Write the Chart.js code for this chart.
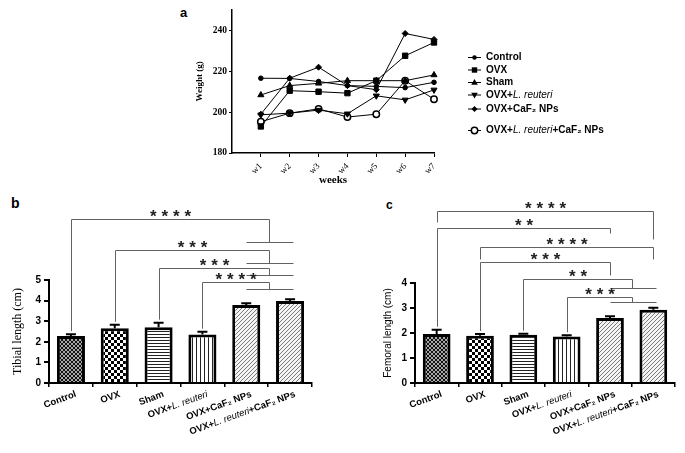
<!DOCTYPE html>
<html>
<head>
<meta charset="utf-8">
<script src="https://cdn.jsdelivr.net/npm/chart.js@4.4.1/dist/chart.umd.min.js"></script>
<style>
  body { margin: 0; background: #fff; width: 685px; height: 453px; position: relative; overflow: hidden; font-family: 'Liberation Sans', Arial, sans-serif; }
  canvas { position: absolute; }
  .tag { position: absolute; font-weight: bold; color: #000; line-height: 1; }
</style>
</head>
<body>
<div class="tag" style="left:180px;top:6px;font-size:13px">a</div>
<div class="tag" style="left:11px;top:196px;font-size:14px">b</div>
<div class="tag" style="left:386px;top:199px;font-size:12px">c</div>
<canvas id="weight" width="685" height="200" style="left:0;top:0"></canvas>
<canvas id="tibia" width="345" height="263" style="left:0;top:190px"></canvas>
<canvas id="femur" width="315" height="263" style="left:370px;top:190px"></canvas>
<script>
//****DATA****//

var weeks = ['w1', 'w2', 'w3', 'w4', 'w5', 'w6', 'w7'];
var weightTicks = [180, 200, 220, 240];
var groups = ['Control', 'OVX', 'Sham', 'OVX+L. reuteri', 'OVX+CaF₂ NPs', 'OVX+L. reuteri+CaF₂ NPs'];

// body weight (g) per week
var weightControl = [216.6, 216.5, 215.0, 213.0, 212.6, 212.0, 214.6];
var weightOvx = [193.0, 210.5, 210.0, 209.3, 215.4, 227.6, 234.1];
var weightSham = [208.4, 213.0, 214.1, 215.4, 215.4, 215.4, 218.2];
var weightReuteri = [198.7, 199.5, 201.0, 199.2, 208.0, 206.0, 210.9];
var weightCaf2 = [199.0, 216.6, 222.0, 213.0, 211.0, 238.5, 235.6];
var weightBoth = [195.3, 199.5, 201.6, 197.6, 199.0, 215.4, 206.3];

// bone lengths (cm), mean and error
var tibiaMean = [2.28, 2.66, 2.71, 2.36, 3.79, 3.98];
var tibiaErr = [0.09, 0.17, 0.22, 0.13, 0.08, 0.08];
var tibiaTicks = [0, 1, 2, 3, 4, 5];
var femurMean = [1.96, 1.89, 1.93, 1.86, 2.60, 2.93];
var femurErr = [0.17, 0.07, 0.04, 0.05, 0.07, 0.08];
var femurTicks = [0, 1, 2, 3, 4];

// significance brackets: [from group, to group or 'pair' (the two CaF2 groups), level, left end, right end, stars]
// a null left end runs the line down to the error bar
var pairGroups = [4, 5];
var tibiaBrackets = [
  [0, 'pair', 7.95, null, 6.84, '****'],
  [1, 'pair', 6.47, null, 5.82, '***'],
  [2, 'pair', 5.56, null, 5.25, '***'],
  [3, 'pair', 4.90, null, 4.58, '****']
];
var femurBrackets = [
  [0, 5, 6.89, 6.46, 5.76, '****'],
  [0, 4, 6.22, null, 6.02, '**'],
  [1, 5, 5.46, 4.96, 4.96, '****'],
  [1, 4, 4.84, null, 4.33, '***'],
  [2, 'pair', 4.16, null, 3.82, '**'],
  [3, 'pair', 3.46, null, 3.24, '***']
];

//****HELPERS****//

var SANS = "'Liberation Sans', Arial, sans-serif";
var SERIF = "'Liberation Serif', 'Times New Roman', serif";

function richParts(text) {
  return text.split(/(L\. reuteri)/).filter(Boolean).map(function (p) {
    return { text: p, style: p === 'L. reuteri' ? 'italic ' : 'bold ' };
  });
}

function drawRich(ctx, text, x, y, size, alignRight) {
  var parts = richParts(text);
  var widths = parts.map(function (p) {
    ctx.font = p.style + size + 'px ' + SANS;
    return ctx.measureText(p.text).width;
  });
  var total = widths.reduce(function (a, b) { return a + b; }, 0);
  var cx = alignRight ? x - total : x;
  ctx.textAlign = 'left';
  parts.forEach(function (p, i) {
    ctx.font = p.style + size + 'px ' + SANS;
    ctx.fillText(p.text, cx, y);
    cx += widths[i];
  });
}

function marker(ctx, style, x, y) {
  ctx.beginPath();
  if (style === 'circle') {
    ctx.arc(x, y, 2.3, 0, Math.PI * 2);
    ctx.fill();
  } else if (style === 'rect') {
    ctx.fillRect(x - 2.7, y - 2.7, 5.4, 5.4);
  } else if (style === 'up') {
    ctx.moveTo(x, y - 3.5); ctx.lineTo(x + 3.3, y + 2.3); ctx.lineTo(x - 3.3, y + 2.3);
    ctx.fill();
  } else if (style === 'down') {
    ctx.moveTo(x, y + 3.5); ctx.lineTo(x + 3.3, y - 2.3); ctx.lineTo(x - 3.3, y - 2.3);
    ctx.fill();
  } else if (style === 'diamond') {
    ctx.moveTo(x, y - 3); ctx.lineTo(x + 3, y); ctx.lineTo(x, y + 3); ctx.lineTo(x - 3, y);
    ctx.fill();
  } else {
    ctx.fillStyle = '#fff';
    ctx.arc(x, y, 3.2, 0, Math.PI * 2);
    ctx.fill();
    ctx.lineWidth = 1.5;
    ctx.stroke();
    ctx.fillStyle = '#000';
  }
}

function makePattern(size, bg, fg, cells) {
  var c = document.createElement('canvas');
  c.width = size; c.height = size;
  var g = c.getContext('2d');
  g.fillStyle = bg; g.fillRect(0, 0, size, size);
  g.fillStyle = fg;
  cells.forEach(function (r) { g.fillRect(r[0], r[1], r[2], r[3]); });
  return g.createPattern(c, 'repeat');
}

var diagonal = [[3, 0, 1, 1], [2, 1, 1, 1], [1, 2, 1, 1], [0, 3, 1, 1]];
var fills = [
  makePattern(4, '#a8a8a8', '#111', [[0, 0, 1, 1], [1, 1, 1, 1], [2, 2, 1, 1], [3, 3, 1, 1], [3, 0, 1, 1], [2, 1, 1, 1], [1, 2, 1, 1], [0, 3, 1, 1]]),
  makePattern(6, '#fff', '#000', [[0, 0, 3, 3], [3, 3, 3, 3]]),
  makePattern(3, '#fff', '#222', [[0, 0, 3, 1]]),
  makePattern(4, '#fff', '#222', [[0, 0, 1, 4]]),
  makePattern(4, '#f4f4f4', '#7a7a7a', diagonal),
  makePattern(4, '#f4f4f4', '#7a7a7a', diagonal)
];

function points(values) {
  return weeks.map(function (w, i) { return { x: i + 1, y: values[i] }; });
}

//****PLUGINS****//

var weightLegend = {
  id: 'weightLegend',
  afterDraw: function (chart) {
    var ctx = chart.ctx;
    var rows = [57.5, 70, 82.5, 95, 109, 130.5];
    ctx.save();
    ctx.fillStyle = '#000';
    ctx.strokeStyle = '#000';
    ctx.textBaseline = 'middle';
    chart.data.datasets.forEach(function (ds, i) {
      var y = rows[i];
      ctx.lineWidth = 1;
      ctx.beginPath();
      ctx.moveTo(468, y); ctx.lineTo(481, y);
      ctx.stroke();
      marker(ctx, ds.legendMark, 474.5, y);
      drawRich(ctx, ds.label, 486, y, 10, false);
    });
    ctx.restore();
  }
};

function errorBars(errs) {
  return {
    id: 'errorBars',
    afterDatasetsDraw: function (chart) {
      var ctx = chart.ctx;
      var ys = chart.scales.y;
      var vals = chart.data.datasets[0].data;
      ctx.save();
      ctx.strokeStyle = '#000';
      ctx.lineWidth = 2;
      chart.getDatasetMeta(0).data.forEach(function (bar, i) {
        var top = ys.getPixelForValue(vals[i] + errs[i]);
        ctx.beginPath();
        ctx.moveTo(bar.x, bar.y);
        ctx.lineTo(bar.x, top);
        ctx.moveTo(bar.x - 5, top);
        ctx.lineTo(bar.x + 5, top);
        ctx.stroke();
      });
      ctx.restore();
    }
  };
}

function brackets(list, errs) {
  return {
    id: 'brackets',
    afterDraw: function (chart) {
      var ctx = chart.ctx;
      var xs = chart.scales.x;
      var ys = chart.scales.y;
      var vals = chart.data.datasets[0].data;
      function px(i) { return Math.round(xs.getPixelForValue(i)) + 0.5; }
      function py(v) { return Math.round(ys.getPixelForValue(v)) + 0.5; }
      ctx.save();
      ctx.strokeStyle = '#626262';
      ctx.lineWidth = 1;
      list.forEach(function (b) {
        var pair = b[1] === 'pair';
        var x1 = px(b[0]);
        var x2 = pair ? Math.round((px(pairGroups[0]) + px(pairGroups[1])) / 2) + 0.5 : px(b[1]);
        var level = py(b[2]);
        var y1 = b[3] === null ? ys.getPixelForValue(vals[b[0]] + errs[b[0]]) - 3 : py(b[3]);
        var y2 = py(b[4]);
        ctx.beginPath();
        ctx.moveTo(x1, y1);
        ctx.lineTo(x1, level);
        ctx.lineTo(x2, level);
        ctx.lineTo(x2, y2);
        if (pair) {
          ctx.moveTo(px(pairGroups[0]), y2);
          ctx.lineTo(px(pairGroups[1]) + 3, y2);
        }
        ctx.stroke();

        // stars
        ctx.fillStyle = '#222';
        ctx.font = 'bold 17px ' + SANS;
        ctx.textAlign = 'center';
        ctx.textBaseline = 'alphabetic';
        var n = b[5].length;
        var mid = (x1 + x2) / 2;
        for (var k = 0; k < n; k++) {
          ctx.fillText('*', mid + (k - (n - 1) / 2) * 11.5, level - 7.5 + 9.6);
        }
      });
      ctx.restore();
    }
  };
}

var groupLabels = {
  id: 'groupLabels',
  afterDraw: function (chart) {
    var ctx = chart.ctx;
    var xs = chart.scales.x;
    var base = chart.chartArea.bottom;
    ctx.save();
    ctx.fillStyle = '#000';
    ctx.textBaseline = 'middle';
    chart.data.labels.forEach(function (label, i) {
      ctx.save();
      ctx.translate(xs.getPixelForValue(i) + 5, base + 11);
      ctx.rotate(-20 * Math.PI / 180);
      drawRich(ctx, label, 0, 0, 9.5, true);
      ctx.restore();
    });
    ctx.restore();
  }
};

//****CHART A: BODY WEIGHT****//

function lineSet(label, values, style, mark) {
  return {
    label: label,
    data: points(values),
    borderColor: '#000',
    borderWidth: 1,
    backgroundColor: '#000',
    pointBorderColor: '#000',
    pointBackgroundColor: '#000',
    pointBorderWidth: 1,
    pointRadius: 3.5,
    pointStyle: style,
    legendMark: mark,
    tension: 0,
    clip: false
  };
}

var weightSets = [
  lineSet('Control', weightControl, 'circle', 'circle'),
  lineSet('OVX', weightOvx, 'rect', 'rect'),
  lineSet('Sham', weightSham, 'triangle', 'up'),
  lineSet('OVX+L. reuteri', weightReuteri, 'triangle', 'down'),
  lineSet('OVX+CaF₂ NPs', weightCaf2, 'rectRot', 'diamond'),
  lineSet('OVX+L. reuteri+CaF₂ NPs', weightBoth, 'circle', 'open')
];
weightSets[0].pointRadius = 2.3;
weightSets[1].pointRadius = 3.8;
weightSets[3].pointRotation = 180;
weightSets[4].pointRadius = 3;
weightSets[5].pointBackgroundColor = '#fff';
weightSets[5].pointBorderWidth = 1.5;
weightSets[5].pointRadius = 3.2;

new Chart(document.getElementById('weight'), {
  type: 'line',
  data: { datasets: weightSets },
  options: {
    responsive: false,
    animation: false,
    layout: { padding: { left: 190, right: 251, top: 10, bottom: 9 } },
    plugins: { legend: { display: false }, tooltip: { enabled: false } },
    scales: {
      x: {
        type: 'linear',
        min: 0,
        max: 7,
        afterBuildTicks: function (s) { s.ticks = weeks.map(function (w, i) { return { value: i + 1 }; }); },
        afterFit: function (s) { s.height = 38; },
        ticks: {
          callback: function (v) { return weeks[v - 1]; },
          minRotation: 45,
          maxRotation: 45,
          padding: 4,
          color: '#000',
          font: { family: SERIF, size: 9 }
        },
        grid: { drawOnChartArea: false, tickLength: 4, color: '#000' },
        border: { color: '#000', width: 1.5 },
        title: { display: true, text: 'weeks', color: '#000', font: { family: SERIF, size: 11, weight: 'bold' } }
      },
      y: {
        min: 180,
        max: 250,
        afterBuildTicks: function (s) { s.ticks = weightTicks.map(function (v) { return { value: v }; }); },
        afterFit: function (s) { s.width = 42; },
        ticks: { padding: 2, color: '#000', font: { family: SERIF, size: 9.5, weight: 'bold' } },
        grid: { drawOnChartArea: false, tickLength: 3, color: '#000' },
        border: { color: '#000', width: 1.5 },
        title: { display: true, text: 'Weight (g)', color: '#000', font: { family: SERIF, size: 9, weight: 'bold' } }
      }
    }
  },
  plugins: [weightLegend]
});

//****CHARTS B & C: BONE LENGTHS****//

function boneChart(id, means, errs, ticks, list, title, titleFont, pad, yWidth) {
  return new Chart(document.getElementById(id), {
    type: 'bar',
    data: {
      labels: groups,
      datasets: [{
        data: means,
        backgroundColor: fills,
        borderColor: '#000',
        borderWidth: 3,
        borderSkipped: 'bottom',
        barPercentage: 0.64,
        categoryPercentage: 1
      }]
    },
    options: {
      responsive: false,
      animation: false,
      layout: { padding: pad },
      plugins: { legend: { display: false }, tooltip: { enabled: false } },
      scales: {
        x: {
          afterFit: function (s) { s.height = 70; },
          ticks: { display: false },
          grid: { drawOnChartArea: false, tickLength: 4, color: '#000', lineWidth: 1.5 },
          border: { color: '#000', width: 2 }
        },
        y: {
          min: ticks[0],
          max: ticks[ticks.length - 1],
          afterBuildTicks: function (s) { s.ticks = ticks.map(function (v) { return { value: v }; }); },
          afterFit: function (s) { s.width = yWidth; },
          ticks: { padding: 3, color: '#000', font: { family: SANS, size: 10, weight: 'bold' } },
          grid: { drawOnChartArea: false, tickLength: 5, color: '#000', lineWidth: 2 },
          border: { color: '#000', width: 2 },
          title: { display: true, text: title, color: '#000', font: titleFont }
        }
      }
    },
    plugins: [errorBars(errs), brackets(list, errs), groupLabels]
  });
}

boneChart('tibia', tibiaMean, tibiaErr, tibiaTicks, tibiaBrackets, 'Tibial length (cm)',
  { family: SERIF, size: 12 }, { left: 7, right: 33, top: 90, bottom: 0 }, 42);
boneChart('femur', femurMean, femurErr, femurTicks, femurBrackets, 'Femoral length (cm)',
  { family: "'Liberation Sans Narrow', " + SANS, size: 10 }, { left: 8, right: 10, top: 93, bottom: 0 }, 37);
</script>
</body>
</html>
